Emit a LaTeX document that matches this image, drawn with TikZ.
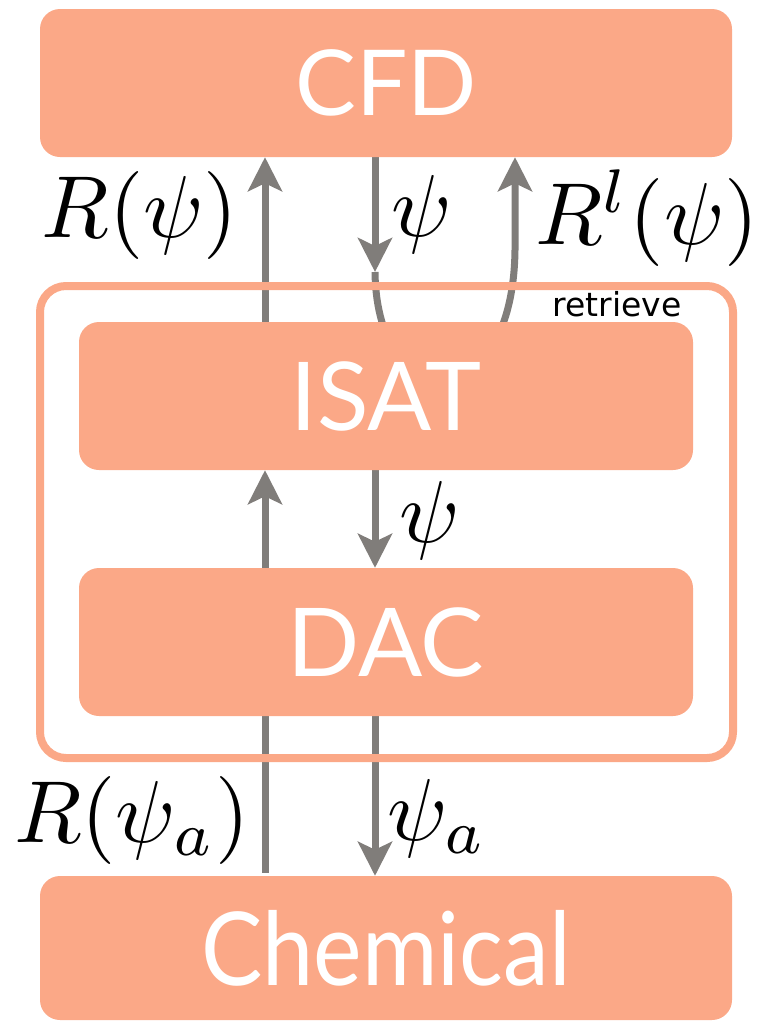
\documentclass[tikz,border=0pt]{standalone}
\usepackage[no-math]{fontspec}
\usepackage{graphicx}
\newfontfamily\boxfont{Lato}
\newfontfamily\boxfontnarrow[FakeStretch=0.9]{Lato}
\newfontfamily\smallfont{DejaVu Sans}
\usetikzlibrary{arrows.meta}
\definecolor{salmon}{RGB}{251,168,135}
\definecolor{arrowgray}{RGB}{128,125,122}
\pgfdeclarelayer{bg}
\pgfdeclarelayer{mid}
\pgfsetlayers{bg,mid,main}
\newcommand{\bigmath}[1]{\scalebox{8.8}{$#1$}}
\begin{document}
\begin{tikzpicture}[x=1pt,y=-1pt,
  block/.style={fill=salmon, rounded corners=20pt, inner sep=0pt, text=white},
  arr/.style={draw=arrowgray, line width=7pt, -{Stealth[length=34pt,width=34pt,inset=8pt]}},
  plainline/.style={draw=arrowgray, line width=7pt},
  grpframe/.style={draw=salmon, line width=8pt, rounded corners=26pt, inner sep=0pt},
  mathlab/.style={inner sep=0pt},
  smalllab/.style={inner sep=0pt, font=\smallfont\fontsize{33}{35}\selectfont}]
\useasboundingbox (0,0) rectangle (760,1021);

\node[block, minimum width=692pt, minimum height=148pt, font=\boxfont\fontsize{91}{95}\selectfont] (cfd) at (386,83) {CFD};
\node[block, minimum width=614pt, minimum height=148pt, font=\boxfont\fontsize{95}{100}\selectfont] (isat) at (386,396) {ISAT};
\node[block, minimum width=614pt, minimum height=148pt, font=\boxfont\fontsize{95}{100}\selectfont] (dac) at (386,642) {DAC};
\node[block, minimum width=692pt, minimum height=144pt, font=\boxfontnarrow\fontsize{102}{108}\selectfont] (chem) at (386,948) {Chemical};

\begin{pgfonlayer}{mid}
\node[grpframe, minimum width=693pt, minimum height=472pt] (grp) at (386.5,522) {};
\end{pgfonlayer}

\node[smalllab] (retr) at (617,304) {retrieve};

\coordinate (psitip) at (375,272);
\coordinate (rr) at (515,250);

\begin{pgfonlayer}{bg}
\draw[arr] ([xshift=-121pt]isat.north) -- ([xshift=-121pt]cfd.south);
\draw[arr] ([xshift=-11pt]cfd.south) -- (psitip);
\draw[arr] (psitip) .. controls (377,420) and (513,420) .. (rr) -- (rr |- cfd.south);
\draw[arr] ([xshift=-121pt]dac.north) -- ([xshift=-121pt]isat.south);
\draw[arr] ([xshift=-11pt]isat.south) -- ([xshift=-11pt]dac.north);
\draw[plainline] ([xshift=-121pt,yshift=3pt]chem.north) -- ([xshift=-121pt]dac.south);
\draw[arr] ([xshift=-11pt]dac.south) -- ([xshift=-11pt]chem.north);
\end{pgfonlayer}

\node[mathlab] (lR) at (140,215) {\bigmath{R(\psi)}};
\node[mathlab] (lpsi) at (422,214) {\bigmath{\psi}};
\node[mathlab] (lRl) at (647,218) {\bigmath{R^l(\psi)}};
\node[mathlab] (lpsi2) at (430,520) {\bigmath{\psi}};
\node[mathlab] (lRa) at (132,820) {\bigmath{R(\psi_a)}};
\node[mathlab] (lpsia) at (437,818) {\bigmath{\psi_a}};
\end{tikzpicture}
\end{document}
